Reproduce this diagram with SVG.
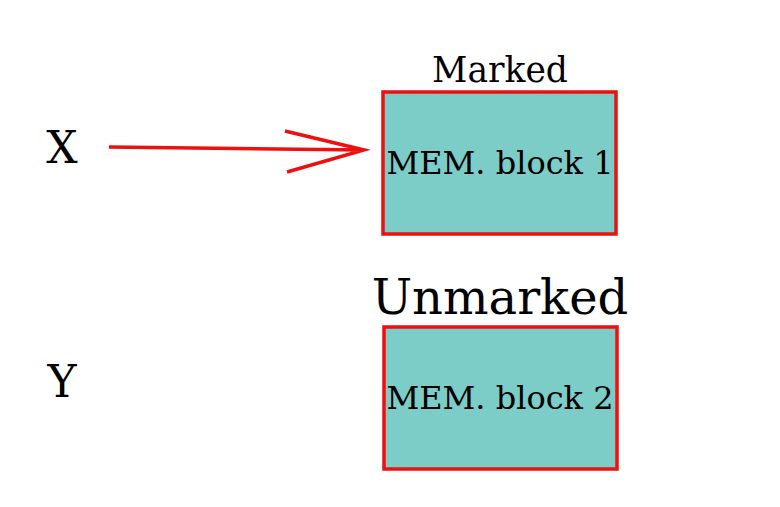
<svg xmlns="http://www.w3.org/2000/svg" width="780" height="507" viewBox="0 0 780 507">
<style>
text{font-family:"DejaVu Serif","Liberation Serif",serif;fill:#000;text-anchor:middle}
.box{fill:#7ccdc8;stroke:#ee0f0f;stroke-width:3.5}
.edge{fill:none;stroke:#ee0f0f;stroke-width:3.5}
</style>
<rect width="780" height="507" fill="#fff"/>
<g id="X"><text x="62" y="163" font-size="44">X</text></g>
<g id="Y"><text x="62" y="397" font-size="44">Y</text></g>
<g id="block1">
<text x="500" y="82" font-size="34.5">Marked</text>
<rect class="box" x="383" y="92" width="233" height="142"/>
<text x="500" y="174" font-size="32">MEM. block 1</text>
</g>
<g id="block2">
<text x="500" y="314" font-size="48">Unmarked</text>
<rect class="box" x="384" y="327" width="233" height="142"/>
<text x="500" y="409" font-size="32">MEM. block 2</text>
</g>
<g id="connectors">
<path class="edge" d="M109,147 L364,150 M285,131 L364,150 L287,172"/>
</g>
</svg>
